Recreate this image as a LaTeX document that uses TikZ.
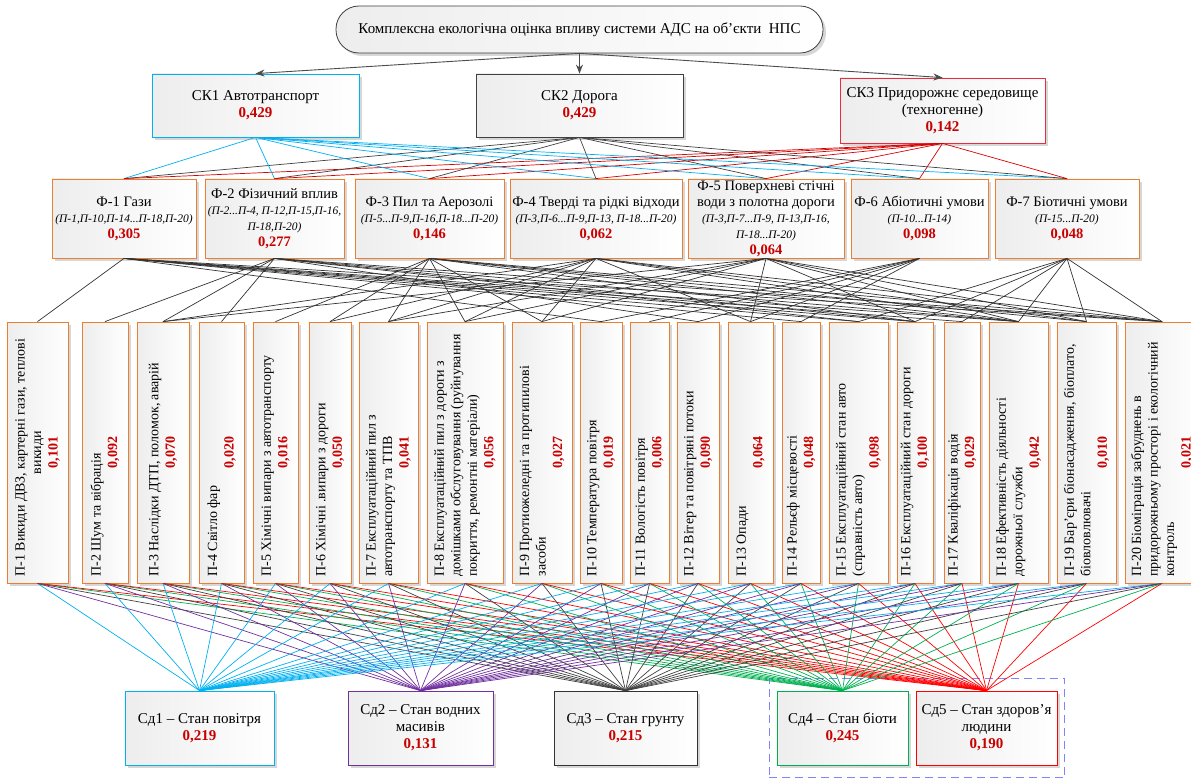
\documentclass[tikz,border=0pt]{standalone}
\usepackage{fontspec}
\setmainfont{Liberation Serif}
\usepackage{graphicx}
\usetikzlibrary{arrows.meta,positioning,shadows,fit}

\definecolor{skyc}{RGB}{0,176,240}
\definecolor{violc}{RGB}{112,48,160}
\definecolor{greenc}{RGB}{0,176,80}
\definecolor{redc}{RGB}{255,0,0}
\definecolor{skred}{RGB}{232,45,65}
\definecolor{orangec}{RGB}{237,125,49}
\definecolor{valred}{RGB}{200,0,0}
\definecolor{zoneblue}{RGB}{130,130,255}
\definecolor{shadowc}{RGB}{215,215,215}

\newcommand{\val}[1]{\textcolor{valred}{\textbf{#1}}}
\newcommand{\plist}[1]{{\fontsize{11.5}{14}\selectfont\itshape #1}}
\newcommand{\prm}[2]{\rotatebox{90}{\parbox{248pt}{\fontsize{14}{16.5}\selectfont
  \raggedright #1\par\centering\val{#2}}}}

\begin{document}
\begin{tikzpicture}[
  x=1pt, y=1pt,
  font=\fontsize{15}{17}\selectfont,
  box/.style={draw=black!75, line width=0.8pt, left color=black!7, right color=white,
              align=center, inner sep=2pt,
              drop shadow={shadow xshift=3pt, shadow yshift=-3pt, fill=shadowc, opacity=1}},
  goalbox/.style={box, rounded corners=23pt, minimum width=487, minimum height=47},
  fbox/.style={box, draw=orangec, minimum height=79, inner sep=1pt,
               font=\fontsize{14.5}{16}\selectfont},
  pbox/.style={box, draw=orangec, minimum height=261, inner sep=0pt},
  sdbox/.style={box, minimum height=74},
  zone/.style={draw=zoneblue, line width=1pt, dash pattern=on 8pt off 5pt,
               inner xsep=7.5pt, inner ysep=12.5pt},
  a/.style={-{Stealth[length=9pt,width=7pt]}, line width=0.9pt, draw=black!70},
  link/.style={line width=0.7pt}
]
\useasboundingbox (0,0) rectangle (1191,-778);

% goal and criteria
\node[goalbox] (goal) at (579.5,-29.5) {Комплексна екологічна оцінка впливу системи АДС на об’єкти~~НПС};
\node[box, draw=skyc, minimum width=207, minimum height=63] (sk1) at (255.5,-105.5) {СК1 Автотранспорт\\ \val{0,429}};
\node[box, minimum width=207, minimum height=63] (sk2) at (579.5,-105.5) {СК2 Дорога\\ \val{0,429}};
\node[box, draw=skred, minimum width=205, minimum height=65] (sk3) at (942.5,-110.5) {СК3 Придорожнє середовище\\ (техногенне)\\ \val{0,142}};

\draw[a] (goal.south) -- (sk1.north);
\draw[a] (goal.south) -- (sk2.north);
\draw[a] (goal.south) -- (sk3.north);

% factors
\node[fbox, minimum width=144] (f1) at (124,-218.5) {Ф-1 Гази\\ \plist{(П-1,П-10,П-14...П-18,П-20)}\\ \val{0,305}};
\node[fbox, minimum width=139] (f2) at (274.5,-218.5) {Ф-2 Фізичний вплив\\ \plist{(П-2...П-4, П-12,П-15,П-16,}\\ \plist{П-18,П-20)}\\ \val{0,277}};
\node[fbox, minimum width=149] (f3) at (429.5,-218.5) {Ф-3 Пил та Аерозолі\\ \plist{(П-5...П-9,П-16,П-18...П-20)}\\ \val{0,146}};
\node[fbox, minimum width=172] (f4) at (596,-218.5) {Ф-4 Тверді та рідкі відходи\\ \plist{(П-3,П-6...П-9,П-13, П-18...П-20)}\\ \val{0,062}};
\node[fbox, minimum width=156] (f5) at (766,-218.5) {Ф-5 Поверхневі стічні\\ води з полотна дороги\\ \plist{(П-3,П-7...П-9, П-13,П-16,}\\ \plist{П-18...П-20)}\\ \val{0,064}};
\node[fbox, minimum width=137] (f6) at (919.5,-218.5) {Ф-6 Абіотичні умови\\ \plist{(П-10...П-14)}\\ \val{0,098}};
\node[fbox, minimum width=144] (f7) at (1067,-218.5) {Ф-7 Біотичні умови\\ \plist{(П-15...П-20)}\\ \val{0,048}};

% parameters
\node[pbox, minimum width=61] (p1) at (37.5,-452.5) {\prm{П-1 Викиди ДВЗ, картерні гази, теплові\par\centering викиди}{0,101}};
\node[pbox, minimum width=46] (p2) at (105,-452.5) {\prm{П-2 Шум та вібрація}{0,092}};
\node[pbox, minimum width=52] (p3) at (163,-452.5) {\prm{П-3 Наслідки ДТП, поломок, аварій}{0,070}};
\node[pbox, minimum width=45] (p4) at (221.5,-452.5) {\prm{П-4 Світло фар}{0,020}};
\node[pbox, minimum width=45] (p5) at (275.5,-452.5) {\prm{П-5 Хімічні випари з автотранспорту}{0,016}};
\node[pbox, minimum width=42] (p6) at (330,-452.5) {\prm{П-6 Хімічні .випари з дороги}{0,050}};
\node[pbox, minimum width=59] (p7) at (388.5,-452.5) {\prm{П-7 Експлуатаційний пил з\\ автотранспорту та ТПВ}{0,041}};
\node[pbox, minimum width=76] (p8) at (465,-452.5) {\prm{П-8 Експлуатаційний пил з дороги з\\ домішками обслуговування (руйнування\\ покриття, ремонтні матеріали)}{0,056}};
\node[pbox, minimum width=60] (p9) at (542,-452.5) {\prm{П-9 Протиожеледні та протипилові\\ засоби}{0,027}};
\node[pbox, minimum width=42] (p10) at (601,-452.5) {\prm{П-10 Температура повітря}{0,019}};
\node[pbox, minimum width=39] (p11) at (649.5,-452.5) {\prm{П-11 Вологість повітря}{0,006}};
\node[pbox, minimum width=42] (p12) at (698,-452.5) {\prm{П-12 Вітер та повітряні потоки}{0,090}};
\node[pbox, minimum width=45] (p13) at (750.5,-452.5) {\prm{П-13 Опади}{0,064}};
\node[pbox, minimum width=38] (p14) at (801,-452.5) {\prm{П-14 Рельєф місцевості}{0,048}};
\node[pbox, minimum width=59] (p15) at (858.5,-452.5) {\prm{П-15 Експлуатаційний стан авто\\ (справність авто)}{0,098}};
\node[pbox, minimum width=36] (p16) at (915,-452.5) {\prm{П-16 Експлуатаційний стан дороги}{0,100}};
\node[pbox, minimum width=36] (p17) at (962,-452.5) {\prm{П-17 Кваліфікація водія}{0,029}};
\node[pbox, minimum width=59] (p18) at (1018.5,-452.5) {\prm{П-18 Ефективність діяльності\\ дорожньої служби}{0,042}};
\node[pbox, minimum width=59] (p19) at (1086.5,-452.5) {\prm{П-19 Бар’єри біонасадження, біоплато,\\ біовловлювачі}{0,010}};
\node[pbox, minimum width=74] (p20) at (1162,-452.5) {\prm{П-20 Біоміграція забруднень в\\ придорожньому просторі і екологічний\\ контроль}{0,021}};

% states
\node[sdbox, draw=skyc, minimum width=149] (sd1) at (199.5,-728) {Сд1 – Стан повітря\\ \val{0,219}};
\node[sdbox, draw=violc, minimum width=145] (sd2) at (420.5,-728) {Сд2 – Стан водних\\ масивів\\ \val{0,131}};
\node[sdbox, draw=black!80, minimum width=143] (sd3) at (625.5,-728) {Сд3 – Стан грунту\\ \val{0,215}};
\node[sdbox, draw=greenc, minimum width=131] (sd4) at (842.5,-728) {Сд4 – Стан біоти\\ \val{0,245}};
\node[sdbox, draw=redc, minimum width=141] (sd5) at (986.5,-728) {Сд5 – Стан здоров'я\\ людини\\ \val{0,190}};

\node[zone, fit=(sd4)(sd5)] (bio) {};

% criteria -> factors
\foreach \f in {1,...,7} {
  \draw[link, skyc] (sk1.south) -- (f\f.north);
  \draw[link, black!75] (sk2.south) -- (f\f.north);
  \draw[link, redc!85!black] (sk3.south) -- (f\f.north);
}

% factors -> parameters
\foreach \f/\ps in {1/{1,10,14,15,16,17,18,20}, 2/{2,3,4,12,15,16,18,20},
                    3/{5,6,7,8,9,16,18,19,20}, 4/{3,6,7,8,9,13,18,19,20},
                    5/{3,7,8,9,13,16,18,19,20}, 6/{10,11,12,13,14},
                    7/{15,16,17,18,19,20}}
  \foreach \p in \ps
    \draw[link, black!80] (f\f.south) -- (p\p.north);

% parameters -> states
\foreach \p in {1,...,20} {
  \draw[link, skyc] (p\p.south) -- (sd1.north);
  \draw[link, violc] (p\p.south) -- (sd2.north);
  \draw[link, black!75] (p\p.south) -- (sd3.north);
  \draw[link, greenc] (p\p.south) -- (sd4.north);
  \draw[link, redc] (p\p.south) -- (sd5.north);
}
\end{tikzpicture}
\end{document}
